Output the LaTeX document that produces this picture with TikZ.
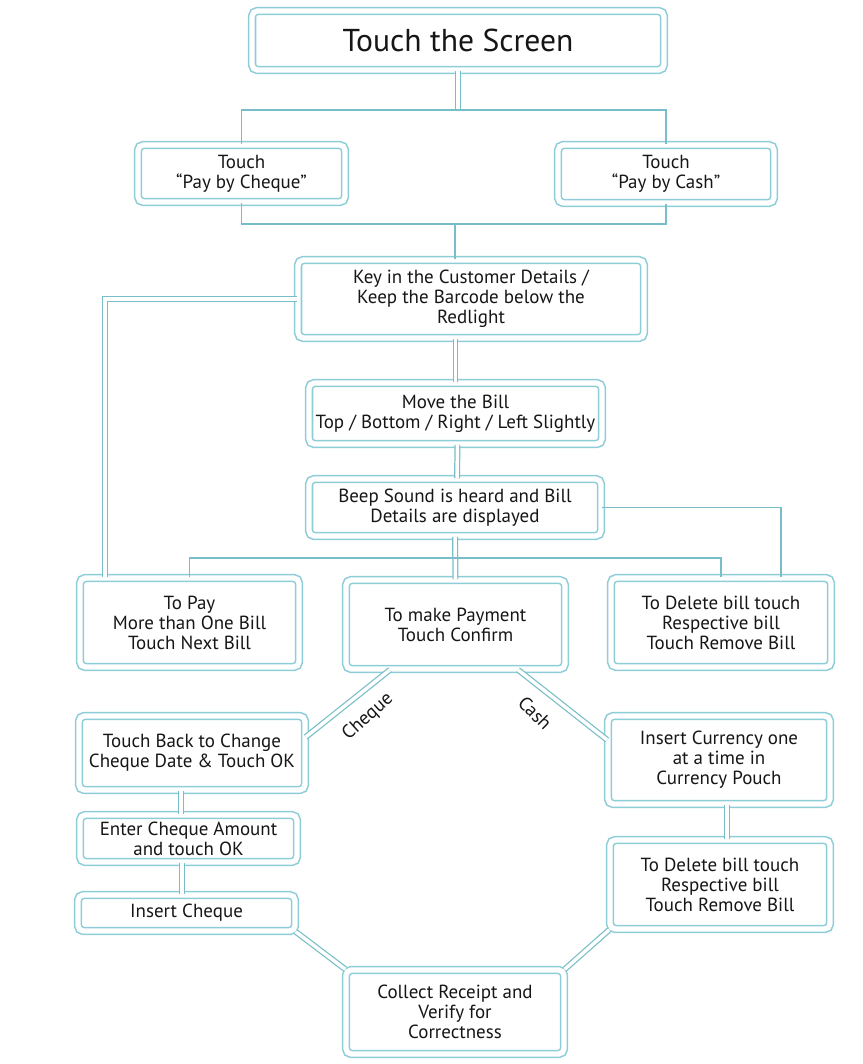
\documentclass[tikz,border=0pt]{standalone}
\usepackage{fontspec}
\setmainfont{PT Sans}
\usepackage{tikz}
\definecolor{boxline}{RGB}{140,205,215}
\definecolor{linkline}{RGB}{120,190,200}
\definecolor{textgrey}{RGB}{22,22,22}
\tikzset{stepbox/.style={draw=boxline, line width=0.9pt, double=white, double distance=3pt, rounded corners=3pt, align=center, text=textgrey, font=\fontsize{10.8}{11.4}\selectfont, inner sep=2pt}}
\tikzset{dlink/.style={draw=linkline, line width=0.7pt, double=white, double distance=2pt}}
\tikzset{slink/.style={draw=linkline, line width=0.8pt}}
\tikzset{way/.style={text=textgrey, font=\fontsize{10.8}{11.4}\selectfont}}

\begin{document}
\begin{tikzpicture}[x=0.02cm, y=-0.02cm]
            \useasboundingbox (0,0) rectangle (862,1064);
            \node[stepbox, minimum width=8.24cm, minimum height=1.18cm, font=\fontsize{18}{19}\selectfont] (screen) at (458,40.5) {Touch the Screen};
            \node[stepbox, minimum width=4.14cm, minimum height=1.14cm] (cheque) at (241.5,173.5) {Touch\\“Pay by Cheque”};
            \node[stepbox, minimum width=4.32cm, minimum height=1.16cm] (cash) at (666,174) {Touch\\“Pay by Cash”};
            \node[stepbox, minimum width=6.92cm, minimum height=1.56cm] (key) at (471,299) {Key in the Customer Details /\\Keep the Barcode below the\\Redlight};
            \node[stepbox, minimum width=5.86cm, minimum height=1.22cm] (move) at (455.5,413.5) {Move the Bill\\Top / Bottom / Right / Left Slightly};
            \node[stepbox, minimum width=5.84cm, minimum height=1.14cm] (beep) at (455,507.5) {Beep Sound is heard and Bill\\Details are displayed};
            \node[stepbox, minimum width=4.38cm, minimum height=1.78cm] (topay) at (189.5,622.5) {To Pay\\More than One Bill\\Touch Next Bill};
            \node[stepbox, minimum width=4.38cm, minimum height=1.78cm] (confirm) at (455.5,624.5) {To make Payment\\Touch Confirm};
            \node[stepbox, minimum width=4.40cm, minimum height=1.78cm] (delete) at (721,622.5) {To Delete bill touch\\Respective bill\\Touch Remove Bill};
            \node[stepbox, minimum width=4.52cm, minimum height=1.48cm] (back) at (192,753) {Touch Back to Change\\Cheque Date \& Touch OK};
            \node[stepbox, minimum width=4.34cm, minimum height=0.94cm] (amount) at (188.5,838.5) {Enter Cheque Amount\\and touch OK};
            \node[stepbox, minimum width=4.34cm, minimum height=0.72cm] (insert) at (186.5,913) {Insert Cheque};
            \node[stepbox, minimum width=4.44cm, minimum height=1.76cm] (currency) at (719,760) {Insert Currency one\\at a time in\\Currency Pouch};
            \node[stepbox, minimum width=4.40cm, minimum height=1.78cm] (remove) at (720,884.5) {To Delete bill touch\\Respective bill\\Touch Remove Bill};
            \node[stepbox, minimum width=4.36cm, minimum height=1.68cm] (collect) at (455,1012) {Collect Receipt and\\Verify for\\Correctness};
            \coordinate (split) at (458,110);
            \coordinate (merge) at (455,224);
            \coordinate (fan) at (455,558);
            \draw[dlink] (screen.south) -- (split);
            \draw[slink] (cheque.north) |- (split) -| (cash.north);
            \draw[slink] (cheque.south) |- (merge) -| (cash.south);
            \draw[slink] (merge) -- (merge |- key.north);
            \draw[dlink] (key.west) -| ([xshift=-1.69cm]topay.north);
            \draw[dlink] (move.north) -- (move.north |- key.south);
            \draw[dlink] ([xshift=0.04cm]beep.north) -- ([xshift=0.04cm]move.south);
            \draw[slink] (beep.east) -| ([xshift=1.2cm]delete.north);
            \draw[dlink] (beep.south) -- (confirm.north);
            \draw[slink] (topay.north) |- (fan) -| (delete.north);
            \draw[dlink] ([xshift=-1.31cm]confirm.south) -- ([yshift=0.32cm]back.east);
            \draw[dlink] ([xshift=1.25cm]confirm.south) -- ([yshift=0.4cm]currency.west);
            \draw[dlink] ([xshift=-0.15cm]amount.north) -- ([xshift=-0.15cm]amount.north |- back.south);
            \draw[dlink] ([xshift=-0.09cm]insert.north) -- ([xshift=-0.09cm]insert.north |- amount.south);
            \draw[dlink] ([xshift=0.14cm]remove.north) -- ([xshift=0.14cm]remove.north |- currency.south);
            \draw[dlink] (insert.south east) -- (collect.north west);
            \draw[dlink] (remove.south west) -- (collect.north east);
            \node[way, rotate=42] (chequeway) at (368,717) {Cheque};
            \node[way, rotate=-45] (cashway) at (535,713) {Cash};
        \end{tikzpicture}
\end{document}
